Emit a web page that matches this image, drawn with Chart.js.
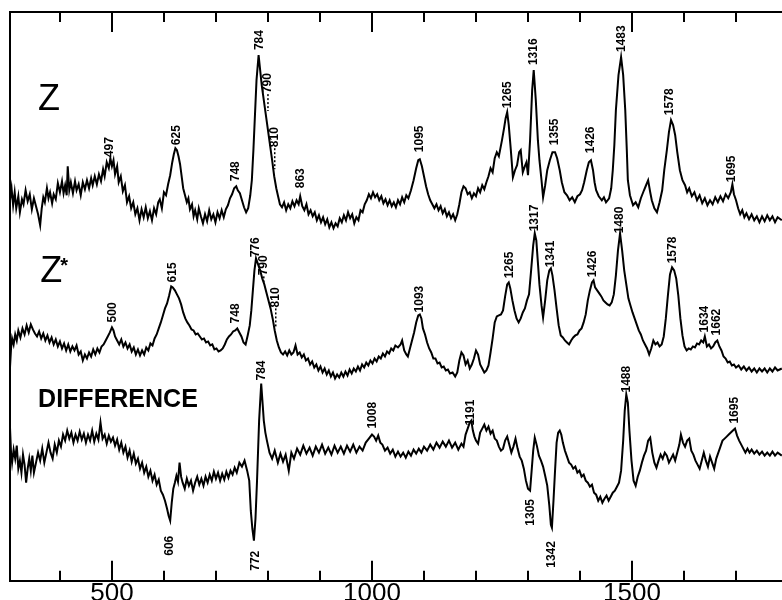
<!DOCTYPE html>
<html><head><meta charset="utf-8">
<script src="https://cdn.jsdelivr.net/npm/chart.js@4"></script>
<style>html,body{margin:0;padding:0;background:#fff;overflow:hidden}
#wrap{position:relative;width:800px;height:606px}</style></head>
<body><div id="wrap"><canvas id="c"></canvas></div>
<script>
// Raman shift (cm-1) vs relative intensity (arbitrary units, traces offset)
const zTrace = [[304,380],[307,392],[310,375],[313,388],[316,372],[320,384],[323,368],[327,381],[330,376],[334,390],[338,379],[342,386],[346,371],[350,382],[354,374],[358,366],[362,355],[365,372],[368,383],[371,378],[375,392],[378,382],[381,388],[385,377],[388,386],[392,381],[396,397],[400,388],[404,399],[407,387],[410,395],[413,385],[415,414],[418,390],[421,398],[425,387],[429,399],[432,390],[436,396],[440,385],[444,398],[448,391],[452,400],[456,392],[460,402],[463,395],[467,404],[471,396],[475,406],[479,399],[483,411],[486,404],[490,418],[494,412],[497,422],[500,414],[503,420],[506,406],[510,414],[513,398],[517,404],[521,389],[525,395],[529,378],[533,384],[537,372],[541,378],[545,366],[549,372],[553,360],[557,371],[561,363],[565,373],[569,362],[573,369],[577,360],[581,372],[585,366],[589,378],[592,381],[596,372],[600,388],[604,385],[608,396],[612,405],[616,418],[619,426],[622,432],[625,430],[628,424],[631,416],[634,404],[637,392],[640,386],[644,378],[647,382],[650,371],[654,376],[657,364],[660,370],[664,361],[667,372],[671,364],[675,357],[679,366],[683,359],[687,370],[691,361],[695,366],[699,358],[703,368],[707,362],[711,370],[715,363],[719,371],[723,375],[727,382],[731,386],[735,392],[739,394],[742,390],[746,387],[750,380],[754,373],[758,368],[762,372],[766,385],[769,400],[772,430],[775,465],[778,500],[782,525],[785,510],[788,495],[792,480],[796,465],[800,450],[804,435],[808,420],[812,404],[816,392],[819,385],[823,376],[827,373],[831,378],[835,370],[839,376],[843,372],[847,379],[851,374],[855,380],[859,376],[862,384],[866,374],[870,370],[874,376],[878,366],[882,370],[886,364],[890,368],[894,360],[898,365],[902,358],[906,363],[910,356],[914,361],[918,353],[922,358],[926,352],[930,357],[934,354],[938,362],[942,358],[946,365],[950,360],[954,368],[958,362],[962,366],[966,357],[970,363],[974,360],[978,370],[982,368],[986,376],[990,380],[994,386],[998,382],[1002,388],[1006,383],[1010,386],[1014,380],[1018,384],[1022,377],[1026,381],[1030,375],[1034,380],[1038,374],[1042,378],[1046,373],[1050,380],[1054,376],[1058,383],[1062,378],[1066,385],[1070,382],[1075,390],[1080,400],[1085,412],[1089,420],[1092,421],[1096,414],[1100,404],[1104,394],[1108,386],[1112,380],[1116,376],[1120,372],[1124,376],[1128,370],[1132,374],[1136,367],[1140,371],[1144,364],[1148,368],[1152,362],[1156,366],[1160,360],[1164,366],[1168,376],[1172,388],[1176,394],[1180,392],[1184,386],[1188,388],[1192,382],[1196,387],[1200,384],[1204,392],[1208,388],[1212,395],[1216,391],[1220,398],[1224,404],[1228,412],[1232,408],[1236,422],[1240,428],[1244,424],[1250,440],[1254,452],[1257,462],[1260,468],[1263,455],[1267,430],[1271,403],[1275,410],[1279,415],[1283,428],[1286,430],[1290,408],[1294,414],[1297,418],[1300,405],[1304,440],[1308,490],[1311,510],[1315,480],[1319,440],[1322,420],[1326,400],[1329,383],[1333,395],[1337,410],[1342,420],[1347,428],[1352,428],[1356,422],[1361,410],[1365,398],[1370,388],[1375,385],[1380,380],[1385,383],[1390,378],[1395,384],[1400,386],[1404,390],[1408,398],[1413,410],[1417,418],[1421,420],[1425,410],[1428,398],[1431,390],[1436,384],[1442,380],[1446,383],[1450,378],[1456,382],[1460,392],[1463,410],[1466,435],[1469,470],[1474,505],[1479,523],[1483,505],[1487,470],[1490,430],[1492,400],[1496,385],[1502,375],[1507,378],[1512,373],[1517,382],[1523,390],[1527,395],[1531,400],[1535,388],[1538,380],[1543,372],[1548,368],[1553,378],[1558,390],[1562,410],[1567,430],[1571,448],[1575,460],[1579,455],[1583,445],[1587,428],[1592,410],[1597,400],[1602,395],[1606,388],[1610,392],[1615,384],[1620,388],[1625,380],[1630,385],[1635,377],[1640,382],[1645,375],[1650,380],[1655,376],[1660,383],[1665,378],[1670,384],[1675,379],[1680,386],[1685,382],[1690,388],[1693,396],[1696,386],[1700,380],[1704,372],[1708,366],[1712,370],[1716,363],[1720,367],[1725,361],[1730,366],[1735,360],[1740,364],[1745,358],[1750,364],[1755,359],[1760,365],[1765,360],[1770,364],[1775,358],[1780,363],[1788,360]];

const zStarTrace = [[304,213],[306,232],[308,242],[311,236],[314,246],[317,240],[320,250],[324,243],[328,252],[332,246],[336,255],[340,248],[344,256],[348,251],[352,247],[356,244],[360,249],[364,242],[368,247],[372,240],[376,245],[380,238],[384,243],[388,236],[392,241],[396,234],[400,239],[404,232],[408,237],[412,230],[416,236],[420,229],[424,234],[428,230],[432,235],[436,226],[440,229],[444,220],[448,226],[452,222],[456,228],[460,224],[464,231],[468,226],[472,232],[476,228],[480,234],[484,236],[488,240],[492,244],[496,248],[500,253],[503,250],[506,244],[510,240],[514,236],[518,241],[522,234],[526,238],[530,232],[534,236],[538,229],[542,233],[546,226],[550,231],[554,225],[558,230],[562,226],[566,233],[570,230],[574,237],[578,235],[582,242],[586,246],[590,252],[594,258],[598,265],[602,272],[606,277],[610,285],[614,294],[617,293],[621,290],[625,286],[629,282],[633,276],[637,268],[641,262],[645,258],[649,255],[653,251],[657,250],[661,246],[665,247],[669,244],[673,241],[677,242],[681,238],[685,239],[689,235],[693,236],[697,231],[701,232],[705,229],[709,230],[713,232],[717,236],[721,241],[725,244],[729,246],[733,249],[737,250],[741,252],[745,248],[749,244],[753,238],[757,236],[761,245],[765,255],[768,270],[771,290],[774,310],[777,322],[781,316],[785,310],[789,302],[793,296],[797,288],[801,280],[805,272],[809,262],[813,250],[817,240],[821,233],[825,228],[829,226],[833,229],[837,225],[841,230],[845,226],[849,228],[853,235],[857,226],[861,228],[865,223],[869,226],[873,220],[877,222],[881,216],[885,219],[889,213],[893,216],[897,210],[901,214],[905,208],[909,212],[913,206],[917,210],[921,204],[925,208],[929,202],[933,206],[937,203],[941,208],[945,204],[949,209],[953,205],[957,211],[961,207],[965,212],[969,209],[973,214],[977,210],[981,216],[985,213],[989,218],[993,215],[997,220],[1001,217],[1005,222],[1009,219],[1013,224],[1017,222],[1021,227],[1025,224],[1029,229],[1033,227],[1037,232],[1041,230],[1045,235],[1050,233],[1055,236],[1058,240],[1062,230],[1066,226],[1069,224],[1073,232],[1077,240],[1081,248],[1085,258],[1089,265],[1092,266],[1095,262],[1098,252],[1102,246],[1106,238],[1110,232],[1114,228],[1118,222],[1122,222],[1126,217],[1130,218],[1134,213],[1138,214],[1142,210],[1146,211],[1150,207],[1155,208],[1160,204],[1164,208],[1168,220],[1172,228],[1176,225],[1180,216],[1184,220],[1188,212],[1192,216],[1196,222],[1200,230],[1204,226],[1208,216],[1212,212],[1216,208],[1220,210],[1224,215],[1228,228],[1232,242],[1236,258],[1240,264],[1244,265],[1248,266],[1252,270],[1256,284],[1260,296],[1263,298],[1266,292],[1270,280],[1274,270],[1278,262],[1282,258],[1286,262],[1290,268],[1294,272],[1298,280],[1302,286],[1306,310],[1310,335],[1313,347],[1316,340],[1319,318],[1322,296],[1326,275],[1329,263],[1333,280],[1337,300],[1341,310],[1344,312],[1347,305],[1351,290],[1355,272],[1359,255],[1363,245],[1367,243],[1371,240],[1375,238],[1379,236],[1383,240],[1387,243],[1391,245],[1395,246],[1399,250],[1403,252],[1407,258],[1411,266],[1415,280],[1419,290],[1423,298],[1426,300],[1429,293],[1433,290],[1437,287],[1441,284],[1445,280],[1449,278],[1453,276],[1457,275],[1461,278],[1465,286],[1469,305],[1473,330],[1477,347],[1481,330],[1485,310],[1489,296],[1493,282],[1497,275],[1501,268],[1505,262],[1509,256],[1513,250],[1517,246],[1521,240],[1525,236],[1529,232],[1533,226],[1537,232],[1541,240],[1545,236],[1549,238],[1553,234],[1557,236],[1561,244],[1565,262],[1569,285],[1573,306],[1577,313],[1581,310],[1585,302],[1589,285],[1593,262],[1597,245],[1601,234],[1605,230],[1609,232],[1613,231],[1617,234],[1621,233],[1625,237],[1629,236],[1633,240],[1637,238],[1640,244],[1644,234],[1648,236],[1652,232],[1656,234],[1660,238],[1664,240],[1668,234],[1672,230],[1676,224],[1680,222],[1684,218],[1688,219],[1692,215],[1696,216],[1700,213],[1705,215],[1710,211],[1715,214],[1720,210],[1725,213],[1730,209],[1735,212],[1740,208],[1745,212],[1750,209],[1755,212],[1760,208],[1765,212],[1770,209],[1775,213],[1780,210],[1788,212]];

const diffTrace = [[304,153],[306,128],[308,118],[311,131],[314,122],[317,135],[320,112],[323,120],[326,108],[329,126],[332,116],[335,98],[338,112],[341,122],[344,110],[347,125],[350,108],[354,118],[358,128],[362,120],[366,132],[370,118],[374,128],[378,138],[382,128],[386,122],[390,136],[394,128],[398,140],[402,134],[406,146],[410,140],[414,150],[418,142],[422,148],[426,138],[430,146],[434,140],[438,149],[442,141],[446,147],[450,138],[454,146],[458,140],[462,150],[466,139],[470,147],[474,141],[478,158],[482,142],[486,146],[490,137],[494,145],[498,139],[502,143],[506,135],[510,141],[514,131],[518,138],[522,128],[526,134],[530,123],[534,130],[538,119],[542,127],[546,117],[550,122],[554,112],[558,118],[562,108],[566,114],[570,104],[574,110],[578,100],[582,106],[586,96],[590,101],[594,90],[598,86],[602,80],[606,72],[609,65],[612,60],[615,78],[618,92],[621,98],[624,105],[627,99],[630,118],[633,104],[636,98],[640,92],[644,102],[648,95],[652,100],[656,90],[660,98],[664,104],[668,96],[672,102],[676,95],[680,104],[684,98],[688,106],[692,100],[696,109],[700,102],[704,108],[708,100],[712,107],[716,101],[720,109],[724,103],[728,110],[732,106],[736,113],[740,108],[745,118],[750,114],[755,120],[760,110],[764,100],[767,70],[770,52],[773,40],[776,62],[779,100],[783,160],[787,197],[790,175],[792,160],[795,148],[798,140],[803,128],[808,122],[813,130],[819,118],[824,127],[829,119],[834,126],[840,110],[845,128],[850,122],[856,132],[862,126],[868,135],[874,127],[880,133],[886,125],[892,134],[898,128],[904,136],[910,127],[916,133],[922,126],[928,135],[934,128],[940,134],[946,127],[952,135],[958,129],[964,136],[970,128],[976,134],[982,130],[988,138],[994,142],[1000,146],[1004,144],[1008,140],[1012,145],[1016,138],[1020,136],[1025,130],[1030,133],[1035,127],[1040,131],[1045,124],[1050,129],[1055,124],[1060,128],[1065,123],[1070,129],[1075,125],[1080,131],[1085,127],[1090,132],[1095,128],[1100,134],[1106,130],[1112,136],[1118,131],[1124,138],[1130,133],[1136,139],[1142,134],[1148,140],[1154,133],[1160,138],[1166,131],[1172,137],[1176,134],[1180,146],[1184,152],[1188,158],[1191,160],[1194,150],[1197,144],[1200,140],[1204,137],[1208,148],[1212,152],[1216,156],[1220,150],[1224,154],[1228,147],[1232,150],[1236,142],[1240,140],[1244,134],[1248,130],[1252,132],[1256,140],[1260,144],[1264,136],[1268,128],[1272,134],[1276,142],[1280,132],[1284,124],[1288,120],[1292,112],[1296,100],[1300,92],[1304,90],[1307,110],[1310,130],[1313,143],[1317,135],[1321,125],[1325,120],[1329,114],[1333,105],[1337,95],[1341,75],[1344,56],[1346,53],[1349,80],[1352,110],[1355,138],[1358,148],[1361,150],[1364,146],[1367,138],[1371,130],[1375,124],[1379,118],[1383,116],[1387,112],[1391,114],[1395,108],[1399,110],[1403,104],[1407,106],[1411,100],[1415,98],[1419,94],[1423,96],[1427,88],[1431,86],[1435,80],[1439,84],[1443,78],[1447,82],[1451,85],[1455,80],[1459,84],[1463,88],[1467,90],[1471,94],[1475,98],[1479,110],[1483,140],[1486,170],[1489,186],[1492,178],[1495,150],[1499,120],[1503,100],[1507,95],[1511,104],[1515,110],[1519,118],[1523,125],[1527,130],[1531,140],[1535,143],[1539,128],[1543,118],[1547,113],[1551,120],[1555,126],[1559,122],[1563,128],[1567,125],[1571,118],[1575,122],[1579,126],[1583,120],[1587,128],[1591,136],[1594,146],[1598,138],[1602,134],[1606,140],[1610,142],[1614,130],[1618,126],[1622,120],[1626,116],[1630,112],[1634,120],[1638,128],[1642,120],[1646,114],[1650,124],[1654,118],[1658,112],[1662,122],[1666,128],[1670,134],[1674,140],[1678,142],[1682,144],[1686,146],[1690,148],[1694,150],[1698,152],[1702,145],[1706,140],[1710,136],[1714,132],[1718,128],[1722,132],[1726,128],[1730,131],[1735,127],[1740,130],[1745,126],[1750,129],[1755,125],[1760,128],[1765,125],[1770,129],[1775,125],[1780,128],[1788,125]];

// peak annotations: [text, shift, intensity at the label's lower end, dotted leader length]
const zPeaks = [['497',496,423,0],['625',625,435,0],['748',738,399,0],['784',785,530,0],['790',800,487,18],['810',813,433,22],['863',862,392,0],['1095',1092,428,0],['1265',1260,472,0],['1316',1310,515,0],['1355',1352,435,0],['1426',1421,427,0],['1483',1481,528,0],['1578',1573,465,0],['1695',1692,398,0]];
const zStarPeaks = [['500',502,258,0],['615',617,298,0],['748',738,257,0],['776',777,323,0],['790',792,305,8],['810',815,273,20],['1093',1092,268,0],['1265',1265,302,0],['1317',1313,349,0],['1341',1344,313,0],['1426',1425,303,0],['1480',1477,347,0],['1578',1579,317,0],['1634',1640,248,0],['1662',1663,245,0]];
const diffPeaks = [['784',787,200,0],['1008',1002,152,0],['1191',1190,155,0],['1488',1490,188,0],['1695',1698,157,0],['606',612,25,0],['772',777,10,0],['1305',1306,55,0],['1342',1346,13,0]];

const traceNames = ['Z', 'Z*', 'DIFFERENCE'];
const traceNamePos = [[358,470],[362,298],[358,174]];

const axisTicks = [400,500,600,700,800,900,1000,1100,1200,1300,1400,1500,1600,1700];
const axisTickLabels = [500,1000,1500];
const xMin = 304, xMax = 1823, yMin = 0, yMax = 568;

const toPts = a => a.map(p => ({x:p[0], y:p[1]}));
const mkDs = (label, a) => ({label, data: toPts(a), borderColor:'#000', borderWidth:2, pointRadius:0, tension:0, fill:false});

const decor = {
  id:'decor',
  afterDraw(chart){
    const ctx = chart.ctx, xs = chart.scales.x, ys = chart.scales.y, ca = chart.chartArea;
    ctx.save();
    ctx.strokeStyle = '#000'; ctx.lineWidth = 2;
    axisTicks.forEach(v => {
      const px = Math.round(xs.getPixelForValue(v));
      const len = (v % 500 === 0) ? 20 : 10;
      ctx.beginPath(); ctx.moveTo(px, ca.bottom); ctx.lineTo(px, ca.bottom - len); ctx.stroke();
      ctx.beginPath(); ctx.moveTo(px, ca.top); ctx.lineTo(px, ca.top + len); ctx.stroke();
    });
    ctx.fillStyle = '#000';
    const drawPeaks = list => list.forEach(([t, x, y, lead]) => {
      const px = xs.getPixelForValue(x), py = ys.getPixelForValue(y);
      ctx.save();
      ctx.translate(px, py);
      ctx.rotate(-Math.PI/2);
      ctx.font = 'bold 12px "Liberation Sans", Arial, sans-serif';
      ctx.textAlign = 'left'; ctx.textBaseline = 'middle';
      ctx.fillText(t, 0, 0);
      ctx.restore();
      if (lead > 0) {
        ctx.save(); ctx.lineWidth = 1.5; ctx.setLineDash([2,2]);
        ctx.beginPath(); ctx.moveTo(px, py + 1); ctx.lineTo(px, py + lead); ctx.stroke();
        ctx.restore();
      }
    });
    drawPeaks(zPeaks); drawPeaks(zStarPeaks); drawPeaks(diffPeaks);
    ctx.textAlign = 'left'; ctx.textBaseline = 'alphabetic';
    let p = traceNamePos[0];
    ctx.font = '36px "Liberation Sans Narrow", "Liberation Sans", sans-serif';
    ctx.fillText(traceNames[0], xs.getPixelForValue(p[0]), ys.getPixelForValue(p[1]));
    p = traceNamePos[1];
    const zx = xs.getPixelForValue(p[0]), zy = ys.getPixelForValue(p[1]);
    ctx.fillText('Z', zx, zy);
    ctx.font = 'bold 20px "Liberation Sans", sans-serif';
    ctx.fillText('*', zx + 20, zy - 10);
    p = traceNamePos[2];
    ctx.font = 'bold 25px "Liberation Sans", Arial, sans-serif';
    ctx.fillText(traceNames[2], xs.getPixelForValue(p[0]), ys.getPixelForValue(p[1]));
    ctx.restore();
  }
};

new Chart(document.getElementById('c'), {
  type:'line',
  data:{datasets:[mkDs('Z', zTrace), mkDs('Z*', zStarTrace), mkDs('DIFFERENCE', diffTrace)]},
  options:{
    responsive:true, maintainAspectRatio:false, animation:false,
    layout:{padding:{left:10, top:12, right:0, bottom:0}},
    plugins:{legend:{display:false}, tooltip:{enabled:false}},
    scales:{
      x:{type:'linear', position:'bottom', min:xMin, max:xMax,
         afterBuildTicks: s => { s.ticks = axisTickLabels.map(v => ({value:v})); },
         ticks:{autoSkip:false, maxRotation:0, padding:-3, color:'#000',
                font:{family:'"Liberation Sans", Arial, sans-serif', size:26},
                callback: v => String(v)},
         grid:{display:false, drawTicks:false},
         border:{display:true, color:'#000', width:2}},
      x2:{type:'linear', position:'top', min:xMin, max:xMax,
         ticks:{display:false}, grid:{display:false, drawTicks:false},
         border:{display:true, color:'#000', width:2}},
      y:{type:'linear', position:'left', min:yMin, max:yMax,
         ticks:{display:false}, grid:{display:false, drawTicks:false},
         border:{display:true, color:'#000', width:2}}
    }
  },
  plugins:[decor]
});
</script>
</body></html>
